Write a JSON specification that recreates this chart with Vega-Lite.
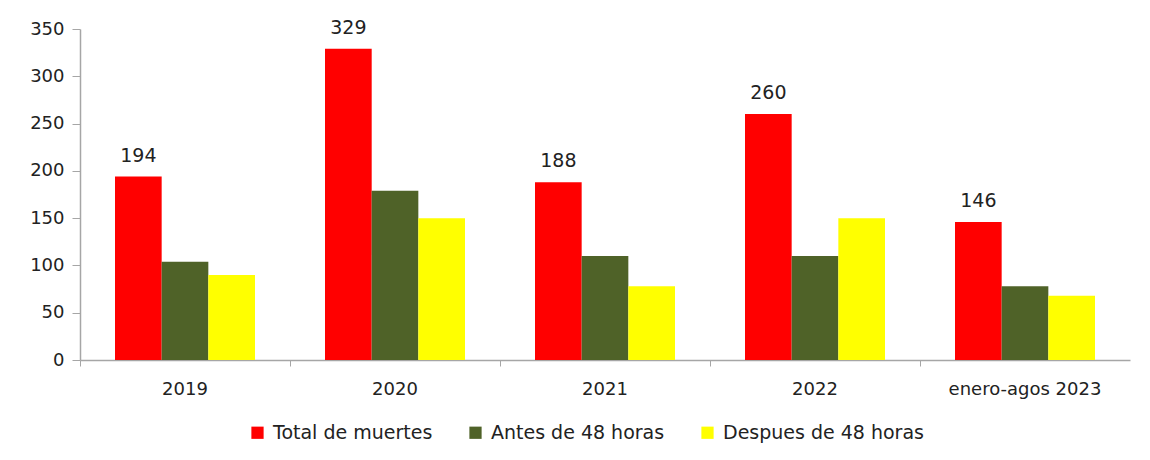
{
  "$schema": "https://vega.github.io/schema/vega-lite/v6.json",
  "width": 1050,
  "height": 331,
  "autosize": {"type": "none"},
  "padding": {"left": 80, "top": 29, "right": 20, "bottom": 100},
  "background": "white",
  "config": {
    "view": {"stroke": null},
    "font": "DejaVu Sans",
    "axis": {"domainColor": "#A6A6A6", "tickColor": "#A6A6A6", "labelColor": "#222222", "labelFont": "DejaVu Sans", "labelFontSize": 18, "title": null}
  },
  "data": {
    "values": [
      {"periodo": "2019", "serie": "Total de muertes", "valor": 194},
      {"periodo": "2019", "serie": "Antes de 48 horas", "valor": 104},
      {"periodo": "2019", "serie": "Despues de 48 horas", "valor": 90},
      {"periodo": "2020", "serie": "Total de muertes", "valor": 329},
      {"periodo": "2020", "serie": "Antes de 48 horas", "valor": 179},
      {"periodo": "2020", "serie": "Despues de 48 horas", "valor": 150},
      {"periodo": "2021", "serie": "Total de muertes", "valor": 188},
      {"periodo": "2021", "serie": "Antes de 48 horas", "valor": 110},
      {"periodo": "2021", "serie": "Despues de 48 horas", "valor": 78},
      {"periodo": "2022", "serie": "Total de muertes", "valor": 260},
      {"periodo": "2022", "serie": "Antes de 48 horas", "valor": 110},
      {"periodo": "2022", "serie": "Despues de 48 horas", "valor": 150},
      {"periodo": "enero-agos 2023", "serie": "Total de muertes", "valor": 146},
      {"periodo": "enero-agos 2023", "serie": "Antes de 48 horas", "valor": 78},
      {"periodo": "enero-agos 2023", "serie": "Despues de 48 horas", "valor": 68}
    ]
  },
  "encoding": {
    "x": {
      "field": "periodo", "type": "nominal", "sort": null,
      "scale": {"paddingInner": 0, "paddingOuter": 0},
      "axis": {"labelAngle": 0, "bandPosition": 0, "tickSize": 6, "labelPadding": 14, "domainWidth": 1.5}
    },
    "xOffset": {
      "field": "serie", "type": "nominal",
      "sort": ["Total de muertes", "Antes de 48 horas", "Despues de 48 horas"],
      "scale": {"paddingInner": 0, "paddingOuter": 0.75}
    },
    "y": {
      "field": "valor", "type": "quantitative",
      "scale": {"domain": [0, 350], "nice": false},
      "axis": {"values": [0, 50, 100, 150, 200, 250, 300, 350], "grid": false, "tickSize": 8, "labelPadding": 8, "domainWidth": 1.5}
    }
  },
  "layer": [
    {
      "mark": {"type": "bar"},
      "encoding": {
        "color": {
          "field": "serie", "type": "nominal",
          "sort": ["Total de muertes", "Antes de 48 horas", "Despues de 48 horas"],
          "scale": {"domain": ["Total de muertes", "Antes de 48 horas", "Despues de 48 horas"], "range": ["#FF0000", "#4F6228", "#FFFF00"]},
          "legend": {
            "title": null, "orient": "none", "legendX": 168, "legendY": 394, "direction": "horizontal",
            "symbolType": "square", "symbolSize": 150, "symbolStrokeWidth": 0,
            "labelFontSize": 19, "labelFont": "DejaVu Sans", "labelColor": "#222222", "labelLimit": 400,
            "columnPadding": 33, "labelOffset": 6
          }
        }
      }
    },
    {
      "transform": [{"filter": "datum.serie === 'Total de muertes'"}],
      "mark": {"type": "text", "baseline": "bottom", "dy": -11, "fontSize": 19, "font": "DejaVu Sans", "color": "#222222"},
      "encoding": {
        "text": {"field": "valor", "type": "quantitative"}
      }
    }
  ]
}
